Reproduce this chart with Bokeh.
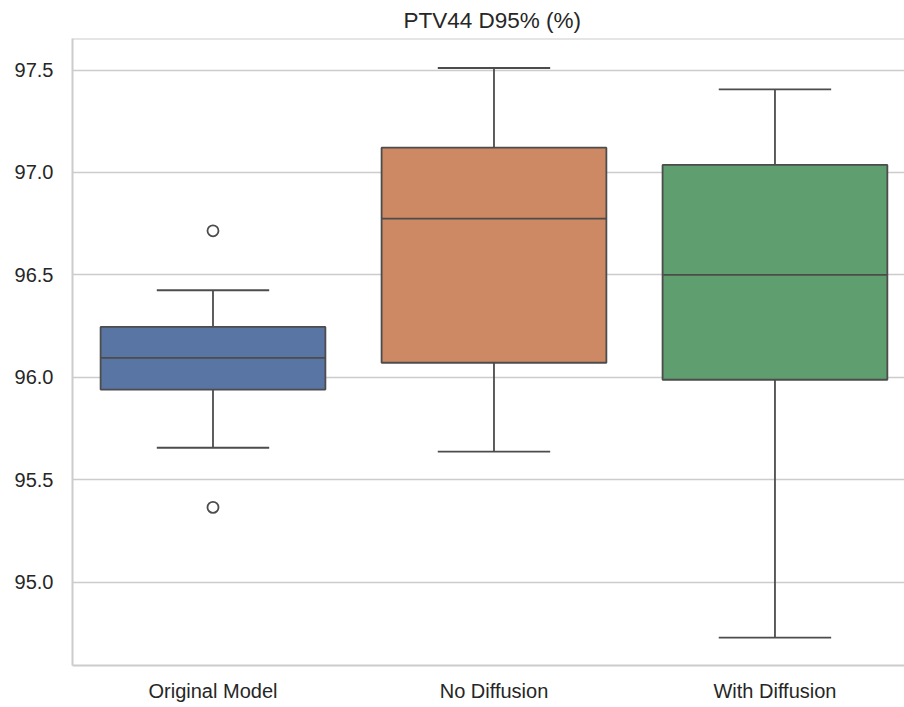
from bokeh.plotting import figure
from bokeh.models import Range1d, FixedTicker, PrintfTickFormatter, Span, ColumnDataSource
from bokeh.embed import file_html
from bokeh.resources import INLINE

# ---- data ----
categories = ["Original Model", "No Diffusion", "With Diffusion"]
q1 = [95.940, 96.071, 95.988]
median = [96.095, 96.775, 96.500]
q3 = [96.246, 97.121, 97.037]
whisker_low = [95.656, 95.637, 94.729]
whisker_high = [96.425, 97.510, 97.406]
outlier_group = [0, 0]
outlier_value = [96.715, 95.365]
y_ticks = [95.0, 95.5, 96.0, 96.5, 97.0, 97.5]
colors = ["#5975a4", "#cc8963", "#5f9e6e"]

edge = "#4c4c4c"
grid = "#cccccc"
text_col = "#262626"
font = "Liberation Sans"
box_w = 0.8
cap_w = 0.4

xs = list(range(len(categories)))
src = ColumnDataSource(dict(
    x=xs, q1=q1, med=median, q3=q3, lo=whisker_low, hi=whisker_high, color=colors,
    xl=[x - box_w / 2 for x in xs], xr=[x + box_w / 2 for x in xs],
    cl=[x - cap_w / 2 for x in xs], cr=[x + cap_w / 2 for x in xs],
))

y_start, y_end = 94.593, 97.654
p = figure(width=904, height=707, output_backend="svg", toolbar_location=None,
           x_range=Range1d(-0.5, 2.461), y_range=Range1d(y_start, y_end),
           min_border_left=72, min_border_right=0, min_border_top=38, min_border_bottom=42,
           title="PTV44 D95% (%)")
p.outline_line_color = None
p.background_fill_color = "white"
p.border_fill_color = "white"

p.title.align = "left"
p.title.offset = 331
p.title.text_font = font
p.title.text_font_size = "22.5px"
p.title.text_font_style = "normal"
p.title.text_color = text_col
p.title.standoff = 11

# grid
p.xgrid.grid_line_color = None
p.ygrid.grid_line_color = grid
p.ygrid.grid_line_width = 1.5
p.ygrid.ticker = FixedTicker(ticks=y_ticks)

# axes
for ax in (p.xaxis[0], p.yaxis[0]):
    ax.axis_line_color = grid
    ax.axis_line_width = 2
    ax.major_tick_line_color = None
    ax.minor_tick_line_color = None
    ax.major_tick_in = 0
    ax.major_tick_out = 0
    ax.major_label_text_font = font
    ax.major_label_text_font_size = "20px"
    ax.major_label_text_color = text_col

p.yaxis[0].ticker = FixedTicker(ticks=y_ticks)
p.yaxis[0].formatter = PrintfTickFormatter(format="%.1f")
p.yaxis[0].major_label_standoff = 19
p.xaxis[0].ticker = FixedTicker(ticks=xs)
p.xaxis[0].major_label_overrides = {i: c for i, c in enumerate(categories)}
p.xaxis[0].major_label_standoff = 14

# top spine
p.add_layout(Span(location=y_end, dimension="width", line_color=grid, line_width=2))

# whiskers
p.segment(x0="x", y0="q3", x1="x", y1="hi", source=src, line_color=edge, line_width=1.8)
p.segment(x0="x", y0="q1", x1="x", y1="lo", source=src, line_color=edge, line_width=1.8)
p.segment(x0="cl", y0="hi", x1="cr", y1="hi", source=src, line_color=edge, line_width=1.8)
p.segment(x0="cl", y0="lo", x1="cr", y1="lo", source=src, line_color=edge, line_width=1.8)
# boxes
p.vbar(x="x", width=box_w, bottom="q1", top="q3", source=src, fill_color="color",
       line_color=edge, line_width=1.8)
# medians
p.segment(x0="xl", y0="med", x1="xr", y1="med", source=src, line_color=edge, line_width=1.8)
# outliers
p.scatter(x=outlier_group, y=outlier_value, size=11, marker="circle", fill_color=None,
          line_color=edge, line_width=1.8)

open("out.html", "w").write(file_html(p, INLINE))
